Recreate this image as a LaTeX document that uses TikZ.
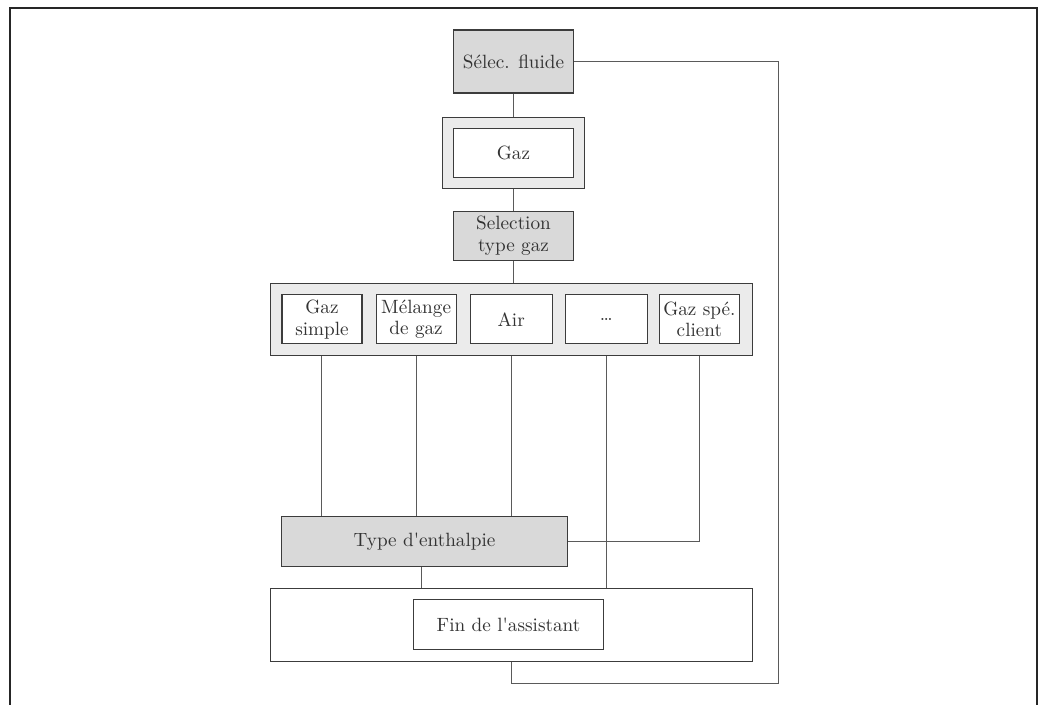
\documentclass[tikz,border=0pt]{standalone}
\usepackage{tikz}
\usetikzlibrary{positioning}
\definecolor{boxline}{HTML}{3C3C3C}
\definecolor{wireline}{HTML}{5A5A5A}
\definecolor{boxgray}{HTML}{D9D9D9}
\definecolor{framegray}{HTML}{EBEBEB}
\definecolor{textgray}{HTML}{333333}
\tikzset{
    basic/.style={
        rectangle,
        draw=boxline,
        line width=0.55pt,
        text=textgray,
        align=center,
        inner sep=1pt,
        font=\fontsize{9.6}{10.8}\selectfont
    },
    param/.style={basic, fill=boxgray, minimum width=60pt, minimum height=24.5pt},
    choice/.style={basic, fill=white, minimum width=40pt, minimum height=24.5pt},
    group/.style={basic, fill=framegray, minimum width=241pt, minimum height=36pt},
    wire/.style={draw=wireline, line width=0.5pt}
}

\begin{document}
\begin{tikzpicture}
        \useasboundingbox (-256.75pt,30.75pt) rectangle (264.75pt,-321.75pt);
        % Page frame
        \draw[line width=1pt, black!85] (-251.75pt,-321.75pt) -- (-251.75pt,26.75pt) -- (261.75pt,26.75pt) -- (261.75pt,-321.75pt);

        % Fluid selection
        \node (selec) [param, minimum height=31.5pt] at (0,0) {Sélec. fluide};

        % Gas
        \node (gaz) [group, minimum width=71pt, minimum height=35.5pt, below=11.5pt of selec] {};
        \node (gaz_in) [choice, minimum width=60pt] at (gaz) {Gaz};

        % Gas type selection
        \node (gastype) [param, below=11pt of gaz] {Selection\\type gaz};

        % Options
        \node (options) [group, below=11pt of gastype, xshift=-1pt] {};
        \node (opt1) [choice, right=5.75pt of options.west] {Gaz\\simple};
        \node (opt2) [choice, right=6.5pt of opt1] {Mélange\\de gaz};
        \node (opt3) [choice, minimum width=41pt, right=6.5pt of opt2] {Air};
        \node (opt4) [choice, minimum width=41pt, right=6pt of opt3] {\dots};
        \node (opt5) [choice, right=5.5pt of opt4] {Gaz spé.\\client};

        % Enthalpy type
        \node (enth) [param, minimum width=143pt, minimum height=25pt, below=80pt of options.south west, anchor=north west, xshift=5.5pt] {Type d\textquotesingle enthalpie};

        % End of wizard
        \node (finout) [basic, fill=white, minimum width=241pt, minimum height=36.5pt, below=116pt of options] {};
        \node (fin) [basic, minimum width=95pt, minimum height=25pt] at ([xshift=-1.5pt]finout.center) {Fin de l\textquotesingle assistant};

        % Return path
        \coordinate (back_top) at ([xshift=102pt]selec.east);
        \coordinate (back_bot) at ([yshift=-11pt]finout.south);

        % Connections
        \draw[wire] (selec) -- (gaz);
        \draw[wire] (gaz) -- (gastype);
        \draw[wire] (gastype) -- (gastype |- options.north);
        \draw[wire] (opt1 |- options.south) -- (opt1 |- enth.north);
        \draw[wire] (opt2 |- options.south) -- (opt2 |- enth.north);
        \draw[wire] (opt3 |- options.south) -- (opt3 |- enth.north);
        \draw[wire] (opt4 |- options.south) -- (opt4 |- finout.north);
        \draw[wire] (opt5 |- options.south) |- (enth.east);
        \draw[wire] ([xshift=-1.5pt]enth.south) -- ([xshift=-1.5pt]enth.south |- finout.north);
        \draw[wire] (selec.east) -- (back_top) |- (back_bot) -- (finout.south);
\end{tikzpicture}
\end{document}
